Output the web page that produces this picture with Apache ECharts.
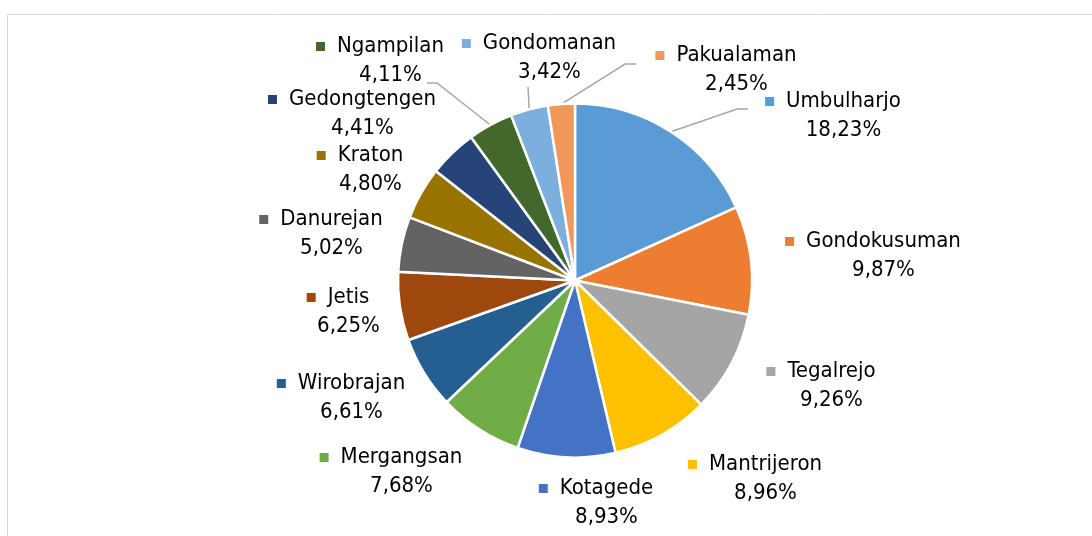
<!DOCTYPE html>
<html>
<head>
<meta charset="utf-8">
<script src="https://cdn.jsdelivr.net/npm/echarts@6/dist/echarts.min.js"></script>
<style>
  html, body { margin: 0; padding: 0; background: #fff; }
  #chart { width: 1092px; height: 536px; }
</style>
</head>
<body>
<div id="chart"></div>
<script>
// kecamatan names and share (%)
var names = ['Umbulharjo', 'Gondokusuman', 'Tegalrejo', 'Mantrijeron', 'Kotagede', 'Mergangsan',
  'Wirobrajan', 'Jetis', 'Danurejan', 'Kraton', 'Gedongtengen', 'Ngampilan', 'Gondomanan', 'Pakualaman'];
var values = [18.23, 9.87, 9.26, 8.96, 8.93, 7.68, 6.61, 6.25, 5.02, 4.80, 4.41, 4.11, 3.42, 2.45];

var colors = ['#5B9BD5', '#ED7D31', '#A5A5A5', '#FFC000', '#4472C4', '#70AD47', '#255E91',
  '#9E480E', '#636363', '#997300', '#264478', '#43682B', '#7CAFDD', '#F1975A'];

// label block centres (Excel places them by hand)
var labelPos = [[833, 116], [873, 256], [821, 386], [755, 479], [596, 503], [391, 472], [341, 398],
  [338, 312], [321, 234], [360, 170], [352, 114], [380, 61], [539, 58], [726, 70]];
// leader lines: elbow + end, only for some slices
var leader = {
  0: [[737, 109], [748, 109]],
  11: [[437, 83], [427, 83]],
  12: [[528, 87], [528, 87]],
  13: [[625, 64], [636, 64]]
};

var FONT = '"Liberation Sans Narrow", "DejaVu Sans Condensed", "Arial Narrow", sans-serif';

var rich = {
  gap: { width: 12 },
  sp: { width: 21 },
  name: { fontSize: 22, fontFamily: FONT, color: '#000', lineHeight: 29 },
  pct: { fontSize: 22, fontFamily: FONT, color: '#000', lineHeight: 29 }
};
colors.forEach(function (c, i) {
  rich['sq' + i] = { width: 9, height: 9, backgroundColor: c };
});

var data = names.map(function (n, i) {
  return {
    name: n,
    value: values[i],
    labelLine: { show: !!leader[i] }
  };
});

var chart = echarts.init(document.getElementById('chart'));
chart.setOption({
  backgroundColor: '#fff',
  color: colors,
  animation: false,
  graphic: [{
    type: 'rect',
    shape: { x: 7.5, y: 14.5, width: 1100, height: 540 },
    style: { fill: 'none', stroke: '#D9D9D9', lineWidth: 1 },
    silent: true
  }],
  series: [{
    type: 'pie',
    center: [575, 280.5],
    radius: 177,
    startAngle: 90,
    clockwise: true,
    avoidLabelOverlap: false,
    data: data,
    itemStyle: { borderColor: '#fff', borderWidth: 2.5 },
    label: {
      show: true,
      position: 'outside',
      align: 'center',
      rich: rich,
      formatter: function (p) {
        var pct = values[p.dataIndex].toFixed(2).replace('.', ',') + '%';
        return '{sq' + p.dataIndex + '|}{gap|}{name|' + p.name + '}\n{sp|}{pct|' + pct + '}';
      }
    },
    labelLine: {
      show: false,
      length: 10,
      length2: 10,
      lineStyle: { color: '#A6A6A6', width: 1.5 }
    },
    labelLayout: function (params) {
      var i = params.dataIndex;
      var out = {
        x: labelPos[i][0],
        y: labelPos[i][1],
        align: 'center',
        verticalAlign: 'middle'
      };
      if (leader[i] && params.labelLinePoints) {
        out.labelLinePoints = [params.labelLinePoints[0]].concat(leader[i]);
      }
      return out;
    }
  }]
});
</script>
</body>
</html>
